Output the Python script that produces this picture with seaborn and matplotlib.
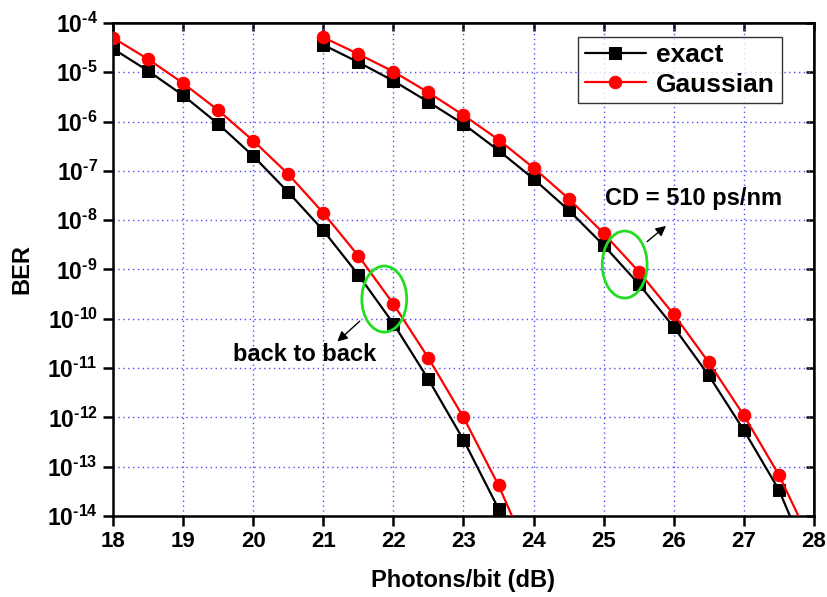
import numpy as np
import pandas as pd
import matplotlib
matplotlib.use("Agg")
import matplotlib.pyplot as plt
import seaborn as sns
from matplotlib.patches import Ellipse
from matplotlib.ticker import FixedLocator, NullLocator

# ── Data ─────────────────────────────────────────────────────────────────────
x_b2b = [18.0, 18.5, 19.0, 19.5, 20.0, 20.5, 21.0, 21.5, 22.0, 22.5, 23.0, 23.5, 24.0]
b2b_exact = [3.0e-5, 1.07e-5, 3.4e-6, 9.0e-7, 2.0e-7, 3.7e-8, 6.2e-9, 7.8e-10,
             8.0e-11, 5.9e-12, 3.5e-13, 1.4e-14, 4.0e-16]
b2b_gauss = [5.0e-5, 1.85e-5, 6.0e-6, 1.7e-6, 4.1e-7, 8.6e-8, 1.4e-8, 1.9e-9,
             2.0e-10, 1.6e-11, 1.0e-12, 4.2e-14, 1.0e-15]

x_cd = [21.0, 21.5, 22.0, 22.5, 23.0, 23.5, 24.0, 24.5, 25.0, 25.5, 26.0, 26.5, 27.0, 27.5, 28.0]
cd_exact = [3.6e-5, 1.6e-5, 6.7e-6, 2.5e-6, 8.9e-7, 2.6e-7, 6.9e-8, 1.6e-8,
            3.1e-9, 5.1e-10, 6.8e-11, 7.1e-12, 5.5e-13, 3.4e-14, 7.0e-16]
cd_gauss = [5.1e-5, 2.35e-5, 1.03e-5, 3.9e-6, 1.35e-6, 4.3e-7, 1.15e-7, 2.75e-8,
            5.4e-9, 9.1e-10, 1.23e-10, 1.3e-11, 1.1e-12, 6.8e-14, 2.2e-15]

x_ticks = list(range(18, 29))
y_exps = list(range(-14, -3))

# ── Setup ────────────────────────────────────────────────────────────────────
sns.set_theme(style="white")
plt.rcParams['font.family'] = ['Liberation Sans', 'DejaVu Sans']
plt.rcParams['font.weight'] = 'bold'
plt.rcParams['mathtext.fontset'] = 'custom'
plt.rcParams['mathtext.bf'] = 'Liberation Sans:bold'
plt.rcParams['mathtext.rm'] = 'Liberation Sans:bold'
for k in ['text.color', 'axes.labelcolor', 'xtick.color', 'ytick.color']:
    plt.rcParams[k] = 'black'

fig = plt.figure(figsize=(8.28, 5.97), dpi=100)
ax = fig.add_axes([0.1365, 0.1357, 0.8465, 0.8258])

series = [
    (x_b2b, b2b_exact, 'black', 's', 'exact'),
    (x_b2b, b2b_gauss, 'red', 'o', 'Gaussian'),
    (x_cd, cd_exact, 'black', 's', None),
    (x_cd, cd_gauss, 'red', 'o', None),
]
for xs, ys, col, mk, lab in series:
    df = pd.DataFrame({'x': xs, 'ber': ys})
    sns.lineplot(data=df, x='x', y='ber', ax=ax, color=col, marker=mk,
                 markersize=9 if mk == 'o' else 8.5, markeredgecolor=col,
                 linewidth=1.6, label=lab, zorder=3)

ax.set_yscale('log')
ax.set_xlim(18, 28)
ax.set_ylim(1e-14, 1e-4)
ax.xaxis.set_major_locator(FixedLocator(x_ticks))
ax.yaxis.set_major_locator(FixedLocator([10.0 ** e for e in y_exps]))
ax.yaxis.set_minor_locator(NullLocator())
ax.set_xticklabels([str(t) for t in x_ticks], fontsize=16, fontweight='bold')
ax.set_yticklabels([r'$\mathbf{10^{\text{-}%d}}$' % -e for e in y_exps], fontsize=16.5)

ax.grid(True, which='major', color='#4d4dff', linestyle=(0, (1, 2.5)), linewidth=1.0)
for sp in ax.spines.values():
    sp.set_color('black')
    sp.set_linewidth(1.8)
ax.tick_params(axis='both', which='major', direction='out', length=7, width=1.8,
               color='black', bottom=True, left=True, pad=4)
# inward ticks on top / right
ax_top = ax.secondary_xaxis('top')
ax_top.set_xticks(x_ticks)
ax_top.tick_params(direction='in', length=6, width=1.8, labeltop=False)
ax_right = ax.secondary_yaxis('right')
ax_right.set_yticks([10.0 ** e for e in y_exps])
ax_right.yaxis.set_minor_locator(NullLocator())
ax_right.tick_params(direction='in', length=6, width=1.8, labelright=False)

ax.set_xlabel('Photons/bit (dB)', fontsize=17, fontweight='bold', labelpad=12)
ax.set_ylabel('BER', fontsize=17, fontweight='bold', labelpad=10)

leg = ax.legend(loc='upper right', bbox_to_anchor=(0.954, 0.972), borderaxespad=0,
                fancybox=False, frameon=True, edgecolor='black', fontsize=19,
                handlelength=2.3, handletextpad=0.4, borderpad=0.25, labelspacing=0.2)
leg.get_frame().set_linewidth(1.0)
for t in leg.get_texts():
    t.set_fontweight('bold')

# ── Annotations ──────────────────────────────────────────────────────────────
green = '#22dd22'
ax.add_patch(Ellipse((0.387, 0.440), 0.064, 0.134, transform=ax.transAxes,
                     fill=False, edgecolor=green, linewidth=2, zorder=4))
ax.add_patch(Ellipse((0.730, 0.510), 0.064, 0.136, transform=ax.transAxes,
                     fill=False, edgecolor=green, linewidth=2, zorder=4))

ax.annotate('', xy=(0.317, 0.350), xytext=(0.355, 0.399), xycoords='axes fraction',
            arrowprops=dict(arrowstyle='-|>', color='black', lw=1, mutation_scale=15))
ax.text(0.273, 0.327, 'back to back', transform=ax.transAxes, ha='center', va='center',
        fontsize=17, fontweight='bold')
ax.annotate('', xy=(0.792, 0.592), xytext=(0.759, 0.553), xycoords='axes fraction',
            arrowprops=dict(arrowstyle='-|>', color='black', lw=1, mutation_scale=15))
ax.text(0.828, 0.643, 'CD = 510 ps/nm', transform=ax.transAxes, ha='center', va='center',
        fontsize=17, fontweight='bold')

plt.savefig('out.png', dpi=100)
plt.close()
